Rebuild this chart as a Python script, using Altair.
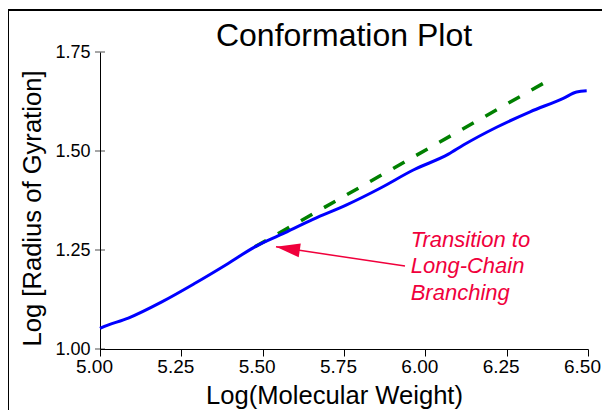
import altair as alt
import pandas as pd

# Measured curve (Log MW vs Log Rg)
log_mw = [5.000, 5.005, 5.087, 5.190, 5.292, 5.394, 5.476, 5.559, 5.656, 5.758,
          5.861, 5.963, 6.071, 6.117, 6.219, 6.322, 6.424, 6.465, 6.496]
log_rg = [1.052, 1.054, 1.078, 1.119, 1.166, 1.216, 1.258, 1.290, 1.328, 1.364,
          1.406, 1.452, 1.492, 1.515, 1.560, 1.599, 1.633, 1.649, 1.652]

# Linear (unbranched) extrapolation
lin_x = [5.476, 6.363]
lin_y = [1.258, 1.671]

# Annotation
note_lines = ["Transition to", "Long-Chain", "Branching"]
note_x = [5.955, 5.955, 5.955]
note_y = [1.2588, 1.1919, 1.125]
arrow_tail = (5.9375, 1.2096)
arrow_tip = (5.541, 1.258)

x_ticks = [5.0, 5.25, 5.5, 5.75, 6.0, 6.25, 6.5]
y_ticks = [1.0, 1.25, 1.5, 1.75]

RED = "#F0003C"
FONT = "Liberation Sans"

curve = pd.DataFrame({"x": log_mw, "y": log_rg})
lin = pd.DataFrame({"x": lin_x, "y": lin_y})
notes = pd.DataFrame({"x": note_x, "y": note_y, "t": note_lines})
arrow = pd.DataFrame({"x": [arrow_tail[0]], "y": [arrow_tail[1]],
                      "x2": [arrow_tip[0]], "y2": [arrow_tip[1]]})
tip = pd.DataFrame({"x": [arrow_tip[0]], "y": [arrow_tip[1]]})
yt = pd.DataFrame({"y": y_ticks})

xs = alt.Scale(domain=[5.0, 6.5], nice=False, zero=False)
ys = alt.Scale(domain=[1.0, 1.75], nice=False, zero=False)

xax = alt.Axis(values=x_ticks, format=".2f", title="Log(Molecular Weight)",
               grid=False, tickSize=7, labelPadding=1, titlePadding=7,
               labelFlush=False, labelOffset=-6, labelFontSize=19,
               titleX=234)
yax = alt.Axis(values=y_ticks, format=".2f", title="Log [Radius of Gyration]",
               grid=False, ticks=False, labelPadding=10, titlePadding=9,
               titleY=156)

base_curve = alt.Chart(curve).mark_line(color="#0000FF", strokeWidth=3,
                                        interpolate="monotone").encode(
    x=alt.X("x:Q", scale=xs, axis=xax),
    y=alt.Y("y:Q", scale=ys, axis=yax),
)

dash = alt.Chart(lin).mark_line(color="#008000", strokeWidth=3.5,
                                strokeDash=[13, 13.5]).encode(
    x=alt.X("x:Q", scale=xs), y=alt.Y("y:Q", scale=ys))

ytick_marks = alt.Chart(yt).mark_tick(orient="horizontal", size=10, thickness=1,
                                      color="black").encode(
    x=alt.datum(5.0, scale=xs), y=alt.Y("y:Q", scale=ys))

arrow_line = alt.Chart(arrow).mark_rule(color=RED, strokeWidth=1.5).encode(
    x=alt.X("x:Q", scale=xs), y=alt.Y("y:Q", scale=ys), x2="x2:Q", y2="y2:Q")

arrow_head = alt.Chart(tip).mark_point(
    shape="M0,0L1,-0.29L1,0.29Z", size=2304, angle=8.5, filled=True,
    color=RED, opacity=1, strokeWidth=0).encode(
    x=alt.X("x:Q", scale=xs), y=alt.Y("y:Q", scale=ys))

text = alt.Chart(notes).mark_text(align="left", baseline="alphabetic",
                                  fontSize=22, fontStyle="italic", color=RED,
                                  font=FONT).encode(
    x=alt.X("x:Q", scale=xs), y=alt.Y("y:Q", scale=ys), text="t:N")

frame = alt.Chart(tip).mark_rect(fillOpacity=0, stroke="black", strokeWidth=2,
                                 clip=False).encode(
    x=alt.value(-92), x2=alt.value(700), y=alt.value(-42), y2=alt.value(500))

chart = alt.layer(frame, ytick_marks, dash, base_curve, arrow_line, arrow_head, text).properties(
    width=488, height=297,
    title=alt.Title("Conformation Plot", fontSize=32, font=FONT,
                    fontWeight="normal", color="black", offset=-69,
                    anchor="middle", frame="group", baseline="alphabetic"),
    autosize=alt.AutoSizeParams(type="none"),
    padding={"left": 92, "top": 44, "right": 14, "bottom": 61},
).configure_view(stroke=None).configure_axis(
    domainColor="black", domainWidth=1, tickColor="black", tickWidth=1,
    labelColor="black", titleColor="black", labelFont=FONT, titleFont=FONT,
    labelFontSize=18, titleFontSize=25.6, titleFontWeight="normal",
)

chart.save("out.html", embed_options={"renderer": "svg", "actions": False})
